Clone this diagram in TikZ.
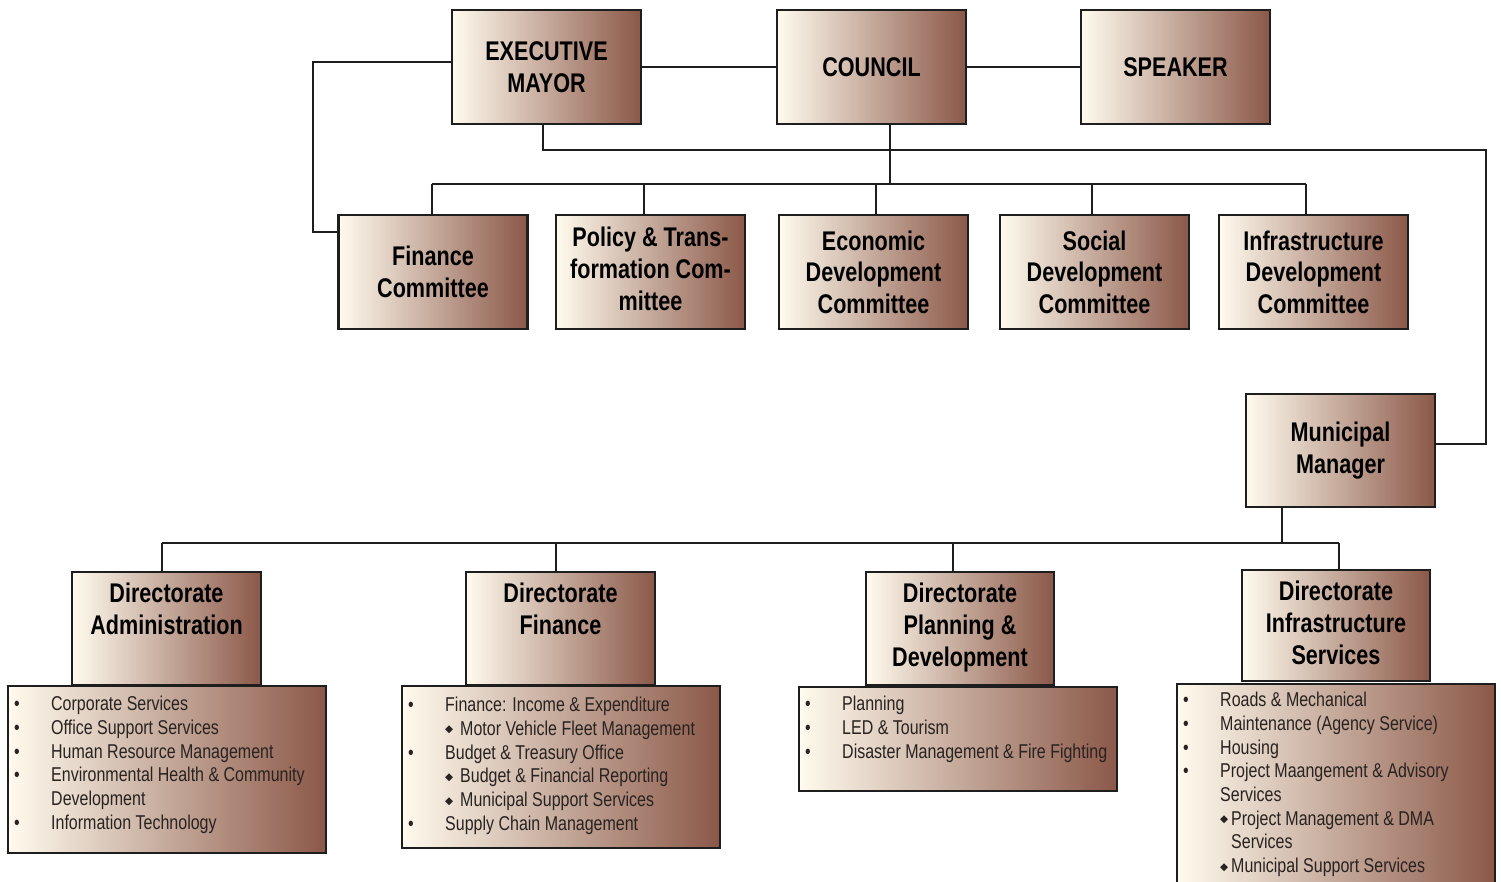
\documentclass[tikz,border=0pt]{standalone}
\usepackage{fontspec}
\setmainfont{Liberation Sans}[FakeStretch=0.8]
\newfontfamily\dvs{DejaVu Sans}
\usetikzlibrary{calc}
\definecolor{boxL}{RGB}{255,251,238}
\definecolor{boxR}{RGB}{139,88,72}
\definecolor{edge}{RGB}{30,30,30}
\definecolor{listtxt}{RGB}{40,34,32}
\newcommand{\bul}{\makebox[40pt][l]{\hspace{3pt}•}}
\newcommand{\ind}{\makebox[40pt][l]{}}
\newcommand{\subb}[1]{\makebox[40pt][l]{}\makebox[#1][l]{\raisebox{2.5pt}{\dvs\fontsize{10.5}{10.5}\selectfont ◆}}}
\begin{document}
\begin{tikzpicture}[x=1pt,y=-1pt,
  box/.style={draw=edge, line width=2.2pt, left color=boxL, right color=boxR,
    minimum width=189pt, minimum height=114pt, inner sep=0pt, align=center,
    font=\bfseries\fontsize{27}{31.5}\selectfont, text=black},
  htxt/.style={anchor=north, inner sep=0pt, align=center,
    font=\bfseries\fontsize{27}{32}\selectfont, text=black},
  lbox/.style={draw=edge, line width=2.2pt, left color=boxL, right color=boxR,
    inner sep=0pt, anchor=north west, minimum width=318pt},
  ltxt/.style={anchor=north west, inner sep=0pt, align=left,
    font=\fontsize{20}{23.7}\selectfont, text=listtxt},
  conn/.style={draw=edge, line width=2pt}]
\clip (0,0) rectangle (1501,881);
\fill[white] (0,0) rectangle (1501,881);

% top level
\node[box] (em) at (546.5,67) {EXECUTIVE\\MAYOR};
\node[box] (co) at (871.5,67) {COUNCIL};
\node[box] (sp) at (1175.5,67) {SPEAKER};

% committees
\node[box] (fc) at (433,272) {Finance\\Committee};
\node[box] (pc) at (650.5,272) {};
\node[htxt] (pct) at ([yshift=-13pt]pc.north) {Policy \& Trans-\\formation Com-\\mittee};
\node[box] (ec) at (873.5,272) {Economic\\Development\\Committee};
\node[box] (sc) at (1094.5,272) {Social\\Development\\Committee};
\node[box] (ic) at (1313.5,272) {Infrastructure\\Development\\Committee};

% municipal manager
\node[box, minimum height=113pt] (mm) at (1340.5,450.5) {Municipal\\Manager};

% lists
\node[lbox, minimum height=167pt] (la) at (7,685) {};
\node[ltxt] (lat) at ([xshift=4pt,yshift=-11pt]la.north west) {%
\bul Corporate Services\\
\bul Office Support Services\\
\bul Human Resource Management\\
\bul Environmental Health \& Community\\
\ind Development\\
\bul Information Technology};

\node[lbox, minimum height=162pt] (lf) at (401,685) {};
\node[ltxt] (lft) at ([xshift=4pt,yshift=-12pt]lf.north west) {%
\bul Finance: Income \& Expenditure\\
\subb{15pt}Motor Vehicle Fleet Management\\
\bul Budget \& Treasury Office\\
\subb{15pt}Budget \& Financial Reporting\\
\subb{15pt}Municipal Support Services\\
\bul Supply Chain Management};

\node[lbox, minimum height=104pt] (lp) at (798,686) {};
\node[ltxt] (lpt) at ([xshift=4pt,yshift=-10pt]lp.north west) {%
\bul Planning\\
\bul LED \& Tourism\\
\bul Disaster Management \& Fire Fighting};

\node[lbox, minimum height=230pt] (li) at (1176,683) {};
\node[ltxt] (lit) at ([xshift=4pt,yshift=-9pt]li.north west) {%
\bul Roads \& Mechanical\\
\bul Maintenance (Agency Service)\\
\bul Housing\\
\bul Project Maangement \& Advisory\\
\ind Services\\
\subb{11pt}Project Management \& DMA\\
\ind\hspace*{11pt}Services\\
\subb{11pt}Municipal Support Services};

% directorate heads
\node[box, minimum height=113pt] (da) at (166.5,628.5) {};
\node[htxt] (dat) at ([yshift=-12pt]da.north) {Directorate\\Administration};
\node[box, minimum height=113pt] (df) at (560.5,628.5) {};
\node[htxt] (dft) at ([yshift=-12pt]df.north) {Directorate\\Finance};
\node[box, minimum height=113pt, minimum width=188pt] (dp) at (960,628.5) {};
\node[htxt] (dpt) at ([yshift=-12pt]dp.north) {Directorate\\Planning \&\\Development};
\node[box, minimum height=111pt, minimum width=188pt] (di) at (1336,625.5) {};
\node[htxt] (dit) at ([yshift=-12pt]di.north) {Directorate\\Infrastructure\\Services};

% connectors top
\draw[conn] (em) -- (co);
\draw[conn] (co) -- (sp);
\coordinate (c1) at (313,62);
\coordinate (c2) at (313,232);
\draw[conn] (c1 -| em.west) -- (c1) -- (c2) -- (c2 -| fc.west);
\coordinate (c3) at (543,150);
\coordinate (c4) at (1486,150);
\coordinate (c5) at (1486,444);
\draw[conn] (c3 |- em.south) -- (c3) -- (c4) -- (c5) -- (c5 -| mm.east);

% council bus
\coordinate (cb) at (890,184);
\coordinate (b1) at (432,184);
\coordinate (b2) at (1306,184);
\draw[conn] (cb |- co.south) -- (cb);
\draw[conn] (b1) -- (b2);
\foreach \n/\x in {fc/432, pc/644, ec/876, sc/1092, ic/1306}{
  \coordinate (d\n) at (\x,184);
  \draw[conn] (d\n) -- (d\n |- \n.north);
}

% manager bus
\coordinate (mb) at (1282,543);
\coordinate (m1) at (162,543);
\coordinate (m2) at (1339,543);
\draw[conn] (mb |- mm.south) -- (mb);
\draw[conn] (m1) -- (m2);
\foreach \n/\x in {da/162, df/556, dp/953, di/1339}{
  \coordinate (e\n) at (\x,543);
  \draw[conn] (e\n) -- (e\n |- \n.north);
}
\end{tikzpicture}
\end{document}
